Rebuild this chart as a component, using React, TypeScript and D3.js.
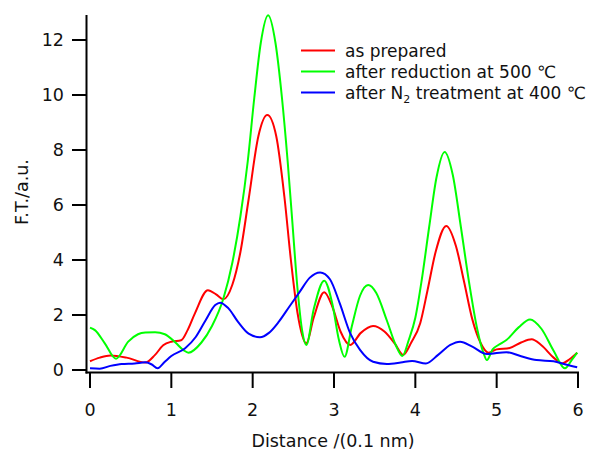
import React from "react";
import * as d3 from "d3";

const redX = [0,0.12,0.25,0.45,0.68,0.8,0.9,1.0,1.12,1.2,1.29,1.45,1.55,1.64,1.75,1.85,1.95,2.07,2.18,2.29,2.39,2.47,2.55,2.66,2.75,2.88,2.98,3.08,3.2,3.33,3.48,3.62,3.75,3.85,3.95,4.06,4.15,4.25,4.38,4.5,4.6,4.7,4.8,4.9,5.0,5.16,5.3,5.43,5.55,5.7,5.8,5.9,5.99];
const redY = [0.32,0.45,0.53,0.45,0.27,0.55,0.9,1.03,1.08,1.45,2.06,2.9,2.75,2.57,3.1,4.3,6.2,8.5,9.27,8.5,6.3,4.0,2.1,0.97,1.9,2.83,2.3,1.4,0.91,1.35,1.6,1.4,0.95,0.55,1.0,1.7,2.9,4.3,5.24,4.5,3.2,1.85,1.0,0.63,0.75,0.8,1.0,1.12,0.9,0.45,0.24,0.4,0.63];

const greenX = [0,0.06,0.18,0.32,0.47,0.59,0.68,0.8,0.92,1.05,1.15,1.21,1.37,1.5,1.64,1.75,1.85,1.94,2.02,2.1,2.19,2.28,2.36,2.43,2.49,2.55,2.61,2.66,2.75,2.88,2.98,3.06,3.13,3.22,3.32,3.42,3.52,3.65,3.76,3.84,3.92,4.0,4.08,4.17,4.26,4.36,4.46,4.56,4.66,4.76,4.84,4.88,4.95,5.02,5.12,5.27,5.41,5.55,5.7,5.84,5.92,5.99];
const greenY = [1.54,1.45,0.98,0.41,1.03,1.3,1.36,1.37,1.3,1.0,0.72,0.63,1.0,1.6,2.6,3.9,5.6,7.6,9.9,11.9,12.9,11.9,9.9,7.6,5.3,3.0,1.4,0.91,2.2,3.25,2.4,1.1,0.48,1.6,2.7,3.09,2.8,1.8,0.9,0.51,1.1,1.9,3.3,5.2,7.0,7.93,7.1,5.2,3.2,1.5,0.6,0.36,0.75,0.91,1.09,1.55,1.84,1.5,0.7,0.06,0.35,0.63];

const blueX = [0,0.12,0.25,0.39,0.55,0.68,0.76,0.83,0.92,1.0,1.17,1.3,1.42,1.54,1.6,1.7,1.82,1.95,2.09,2.2,2.32,2.45,2.58,2.7,2.83,2.95,3.07,3.2,3.32,3.48,3.65,3.82,3.96,4.13,4.28,4.43,4.55,4.7,4.88,5.12,5.3,5.49,5.7,5.85,5.99];
const blueY = [0.06,0.05,0.15,0.22,0.24,0.28,0.2,0.06,0.3,0.51,0.79,1.2,1.8,2.36,2.45,2.25,1.75,1.32,1.19,1.35,1.75,2.3,2.85,3.35,3.55,3.3,2.43,1.33,0.73,0.3,0.22,0.27,0.33,0.24,0.55,0.91,1.03,0.85,0.58,0.65,0.5,0.36,0.32,0.2,0.1];

const xTicks = [0,1,2,3,4,5,6];
const yTicks = [0,2,4,6,8,10,12];

const seriesNames = ["as prepared", "after reduction at 500 \u2103", "after N2 treatment at 400 \u2103"];
const seriesColors = ["#ff0000", "#00ff00", "#0000ff"];

const FONT = "DejaVu Sans, sans-serif";

export default function App() {
  const x = d3.scaleLinear().domain([0, 6]).range([90, 578]);
  const y = d3.scaleLinear().domain([0, 12]).range([370, 40]);
  const line = d3
    .line<[number, number]>()
    .x((d) => x(d[0]))
    .y((d) => y(d[1]))
    .curve(d3.curveMonotoneX);
  const series = [
    d3.zip(redX, redY) as [number, number][],
    d3.zip(greenX, greenY) as [number, number][],
    d3.zip(blueX, blueY) as [number, number][],
  ];
  const axisY = 372.5;
  const axisX = 86.5;
  return (
    <svg width={592} height={450} style={{ position: "absolute", left: 0, top: 0, background: "#fff" }} fontFamily={FONT}>
      <rect width={592} height={450} fill="#fff" />
      {series.map((s, i) => (
        <path key={i} d={line(s) || ""} fill="none" stroke={seriesColors[i]} strokeWidth={2} />
      ))}
      <line x1={axisX} x2={axisX} y1={15} y2={axisY + 1} stroke="#000" strokeWidth={2} />
      <line x1={axisX - 1} x2={579} y1={axisY} y2={axisY} stroke="#000" strokeWidth={2} />
      {yTicks.map((t) => (
        <g key={t}>
          <line x1={72} x2={axisX} y1={y(t)} y2={y(t)} stroke="#000" strokeWidth={2} />
          <text x={64} y={y(t)} dy="0.36em" textAnchor="end" fontSize={17.5} fill="#111">{t}</text>
        </g>
      ))}
      {xTicks.map((t) => (
        <g key={t}>
          <line x1={x(t)} x2={x(t)} y1={axisY} y2={388} stroke="#000" strokeWidth={2} />
          <text x={x(t)} y={416} textAnchor="middle" fontSize={17.5} fill="#111">{t}</text>
        </g>
      ))}
      <text x={333} y={447} textAnchor="middle" fontSize={17.5} fill="#111">Distance /(0.1 nm)</text>
      <text transform="translate(28,192) rotate(-90)" textAnchor="middle" fontSize={17.5} fill="#111">F.T./a.u.</text>
      {seriesNames.map((n, i) => {
        const ly = 50.5 + i * 21;
        return (
          <g key={i}>
            <line x1={301} x2={335} y1={ly} y2={ly} stroke={seriesColors[i]} strokeWidth={2} />
            <text x={345} y={ly + 6} fontSize={17} fill="#111">
              {i === 2 ? (
                <>
                  after N<tspan fontSize={11} dy={4}>2</tspan>
                  <tspan dy={-4}> treatment at 400 {"\u2103"}</tspan>
                </>
              ) : (
                n
              )}
            </text>
          </g>
        );
      })}
    </svg>
  );
}
